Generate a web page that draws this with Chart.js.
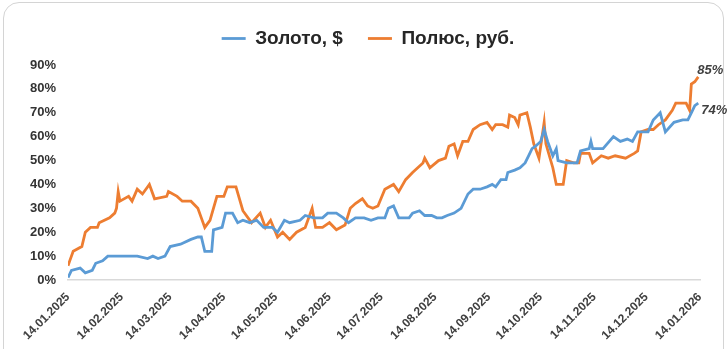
<!DOCTYPE html>
<html>
<head>
<meta charset="UTF-8" />
<title>Золото и Полюс</title>
<script src="https://cdn.jsdelivr.net/npm/chart.js"></script>
<style>
html, body { margin:0; padding:0; background:#fff; }
#wrap { position:relative; width:727px; height:349px; overflow:hidden; }
#frame { position:absolute; left:3px; top:2px; width:719px; height:380px; border:1.5px solid #d4d4d4; border-radius:16px; }
#chart { position:absolute; left:0; top:0; }
</style>
</head>
<body>
<div id="wrap">
  <div id="frame"></div>
  <canvas id="chart" width="727" height="349"></canvas>
</div>

<script>
// days since 14.01.2025
const tickDays = [0, 31, 59, 90, 120, 151, 181, 212, 243, 273, 304, 334, 365];
const tickLabels = ['14.01.2025', '14.02.2025', '14.03.2025', '14.04.2025', '14.05.2025', '14.06.2025',
  '14.07.2025', '14.08.2025', '14.09.2025', '14.10.2025', '14.11.2025', '14.12.2025', '14.01.2026'];
const yTicks = [0, 10, 20, 30, 40, 50, 60, 70, 80, 90];

// Золото, $ — cumulative change, %
const goldDays = [0, 2, 7, 10, 14, 16, 20, 23, 30, 36, 40, 46, 49, 52, 56, 59, 65, 71, 75, 77, 79, 83, 84, 89, 91, 95,
  98, 101, 105, 109, 113, 118, 121, 125, 128, 134, 137, 142, 147, 150, 155, 159, 162, 166, 171, 175, 179, 183, 185,
  188, 191, 197, 199, 203, 206, 210, 213, 216, 219, 223, 227, 231, 234, 238, 242, 245, 247, 250, 253, 254, 258, 261,
  264, 266, 268, 270, 273, 275, 277, 280, 282, 283, 288, 294, 296, 301, 302, 303, 309, 315, 319, 323, 326, 329, 335,
  338, 342, 345, 350, 355, 358, 360, 362, 364];
const goldValues = [1, 4, 5, 3, 4, 7, 8, 10, 10, 10, 10, 9, 10, 9, 10, 14, 15, 17, 18, 18, 12, 12, 21, 22, 28, 28,
  24, 25, 24, 25, 22, 22, 20, 25, 24, 25, 27, 26, 26, 28, 28, 26, 24, 26, 26, 25, 26, 26, 30,
  31, 26, 26, 28, 29, 27, 27, 26, 26, 27, 28, 30, 36, 38, 38, 39, 40, 39, 42, 42, 45, 46, 47,
  49, 52, 55, 56, 58, 63, 58, 52, 55, 50, 49, 49, 54, 55, 58, 55, 55, 60, 58, 59, 58, 62, 62,
  67, 70, 62, 66, 67, 67, 70, 73, 74];

// Полюс, руб. — cumulative change, %
const polyusDays = [0, 1, 3, 8, 10, 13, 17, 18, 24, 27, 28, 29, 30, 35, 37, 40, 43, 47, 50, 57, 58, 63, 66, 71, 75,
  77, 79, 82, 86, 90, 92, 97, 101, 106, 111, 114, 117, 121, 124, 128, 132, 137, 141, 143, 147, 151, 155, 160, 163,
  166, 170, 173, 176, 179, 183, 188, 191, 195, 199, 205, 206, 209, 214, 218, 220, 223, 225, 228, 231, 234, 238, 242,
  245, 247, 251, 254, 255, 258, 260, 261, 265, 267, 269, 272, 275, 276, 280, 282, 286, 288, 292, 295, 296, 301, 303,
  308, 312, 316, 322, 327, 329, 331, 335, 338, 341, 345, 349, 351, 357, 359, 360, 362, 364];
const polyusValues = [6, 8, 12, 14, 20, 22, 22, 24, 26, 28, 30, 37, 33, 35, 33, 38, 36, 40, 34, 35, 37, 35, 33, 33, 30,
  26, 22, 25, 35, 35, 39, 39, 29, 24, 28, 22, 25, 18, 20, 17, 20, 22, 30, 22, 22, 24, 21, 23, 30,
  32, 34, 31, 30, 31, 38, 40, 37, 42, 45, 49, 51, 47, 50, 51, 56, 57, 52, 58, 58, 63, 65, 66,
  63, 65, 65, 64, 69, 68, 65, 69, 70, 64, 57, 51, 66, 57, 47, 40, 40, 50, 49, 49, 53, 53, 49,
  52, 51, 52, 51, 53, 54, 62, 63, 63, 65, 67, 71, 74, 74, 71, 82, 83, 85];

const toPoints = (days, vals) => days.map((d, i) => ({ x: d, y: vals[i] }));

// extra room under the legend and a small shift to the right
const legendTweak = {
  id: 'legendTweak',
  beforeLayout(chart) {
    const lg = chart.legend;
    if (lg && !lg._patched) {
      const fit = lg.fit;
      lg.fit = function () { fit.call(this); this.height += 7; };
      lg._patched = true;
    }
  },
  afterLayout(chart) {
    chart.legend.left += 18;
    chart.legend.right += 18;
  }
};

const endLabels = {
  id: 'endLabels',
  afterDatasetsDraw(chart) {
    const ctx = chart.ctx;
    const offsets = [[3, 7], [-1, -7]];
    chart.data.datasets.forEach((ds, i) => {
      const pts = chart.getDatasetMeta(i).data;
      const p = pts[pts.length - 1];
      const v = ds.data[ds.data.length - 1].y;
      ctx.save();
      ctx.font = 'italic bold 13px "Liberation Sans", Arial, sans-serif';
      ctx.fillStyle = '#404040';
      ctx.textAlign = 'left';
      ctx.textBaseline = 'middle';
      ctx.fillText(v + '%', p.x + offsets[i][0], p.y + offsets[i][1]);
      ctx.restore();
    });
  }
};

Chart.defaults.font.family = '"Liberation Sans", Arial, sans-serif';
Chart.defaults.color = '#404040';

new Chart(document.getElementById('chart'), {
  type: 'line',
  data: {
    datasets: [
      { label: 'Золото, $', data: toPoints(goldDays, goldValues), borderColor: '#5B9BD5', backgroundColor: '#5B9BD5',
        borderWidth: 2.8, pointRadius: 0, tension: 0 },
      { label: 'Полюс, руб.', data: toPoints(polyusDays, polyusValues), borderColor: '#ED7D31', backgroundColor: '#ED7D31',
        borderWidth: 2.8, pointRadius: 0, tension: 0 }
    ]
  },
  options: {
    responsive: false,
    animation: false,
    layout: { padding: { top: 4, right: 27, left: 0, bottom: 0 } },
    plugins: {
      legend: {
        position: 'top',
        labels: {
          usePointStyle: true, pointStyle: 'line', pointStyleWidth: 24, boxHeight: 3,
          padding: 25, color: '#262626',
          font: { size: 19, weight: 'bold' }
        }
      },
      tooltip: { enabled: false }
    },
    scales: {
      x: {
        type: 'linear', min: 0, max: 365,
        afterBuildTicks: s => { s.ticks = tickDays.map(v => ({ value: v })); },
        afterFit: s => { s.height = 69; },
        ticks: {
          autoSkip: false, minRotation: 45, maxRotation: 45, padding: 2,
          callback: (v, i) => tickLabels[i],
          font: { size: 12, weight: 'bold' }, color: '#404040'
        },
        grid: { display: false },
        border: { display: true, color: '#d9d9d9', width: 1.5 }
      },
      y: {
        min: 0, max: 90,
        afterBuildTicks: s => { s.ticks = yTicks.map(v => ({ value: v })); },
        afterFit: s => { s.width = 68; },
        ticks: {
          padding: 12, callback: v => v + '%',
          font: { size: 13, weight: 'bold' }, color: '#333333'
        },
        grid: { display: false, drawTicks: false },
        border: { display: false }
      }
    }
  },
  plugins: [legendTweak, endLabels]
});
</script>
</body>
</html>
